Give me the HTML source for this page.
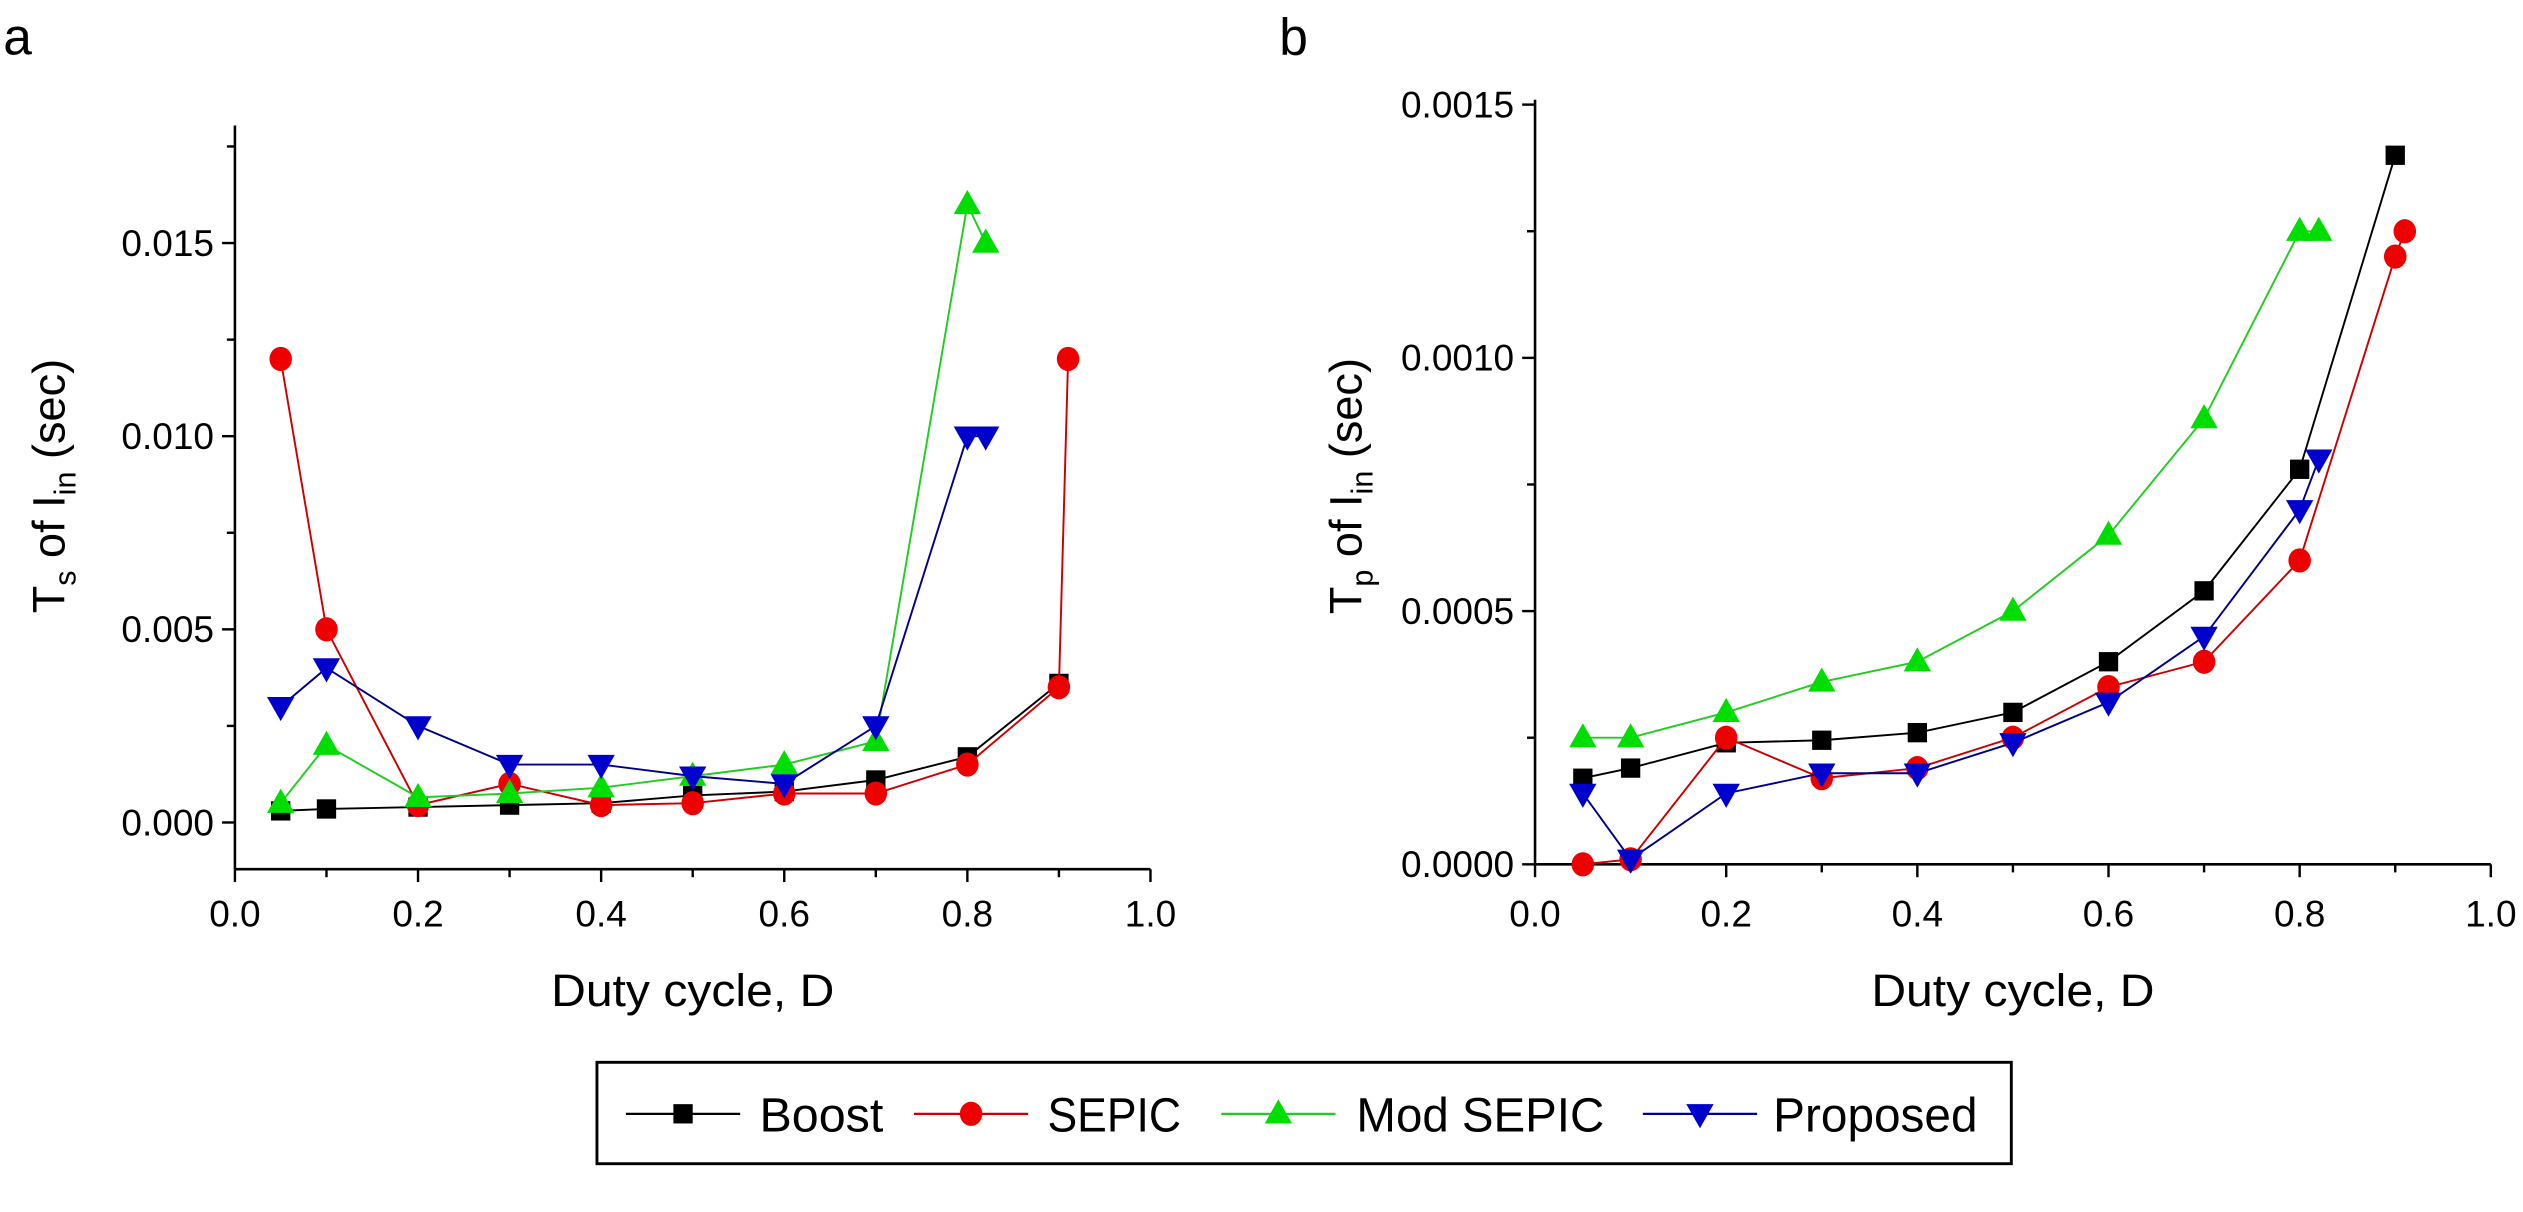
<!DOCTYPE html>
<html><head><meta charset="utf-8"><style>
html,body{margin:0;padding:0;background:#fff;}
svg{display:block;font-family:"Liberation Sans",Arial,sans-serif;}
</style></head><body>
<svg id="chart" width="2523" height="1212" viewBox="0 0 1568 753" preserveAspectRatio="none" xmlns="http://www.w3.org/2000/svg">
<g id="pa"></g>
<g id="pb"></g>
<g id="legend"></g>
</svg>
<script>
const xsA = [0.05,0.1,0.2,0.3,0.4,0.5,0.6,0.7,0.8,0.9];
const boostA = [0.0003,0.00035,0.0004,0.00045,0.0005,0.0007,0.0008,0.0011,0.0017,0.0036];
const sepicXA = [0.05,0.1,0.2,0.3,0.4,0.5,0.6,0.7,0.8,0.9,0.91];
const sepicA = [0.012,0.005,0.00045,0.001,0.00045,0.0005,0.00075,0.00075,0.0015,0.0035,0.012];
const modXA = [0.05,0.1,0.2,0.3,0.4,0.5,0.6,0.7,0.8,0.82];
const modA = [0.0005,0.002,0.00065,0.00075,0.0009,0.0012,0.0015,0.0021,0.016,0.015];
const propXA = [0.05,0.1,0.2,0.3,0.4,0.5,0.6,0.7,0.8,0.82];
const propA = [0.003,0.004,0.0025,0.0015,0.0015,0.0012,0.001,0.0025,0.01,0.01];

const xsB = [0.05,0.1,0.2,0.3,0.4,0.5,0.6,0.7,0.8,0.9];
const boostB = [0.00017,0.00019,0.00024,0.000245,0.00026,0.0003,0.0004,0.00054,0.00078,0.0014];
const sepicXB = [0.05,0.1,0.2,0.3,0.4,0.5,0.6,0.7,0.8,0.9,0.91];
const sepicB = [0,0.00001,0.00025,0.00017,0.00019,0.00025,0.00035,0.0004,0.0006,0.0012,0.00125];
const modXB = [0.05,0.1,0.2,0.3,0.4,0.5,0.6,0.7,0.8,0.82];
const modB = [0.00025,0.00025,0.0003,0.00036,0.0004,0.0005,0.00065,0.00088,0.00125,0.00125];
const propXB = [0.05,0.1,0.2,0.3,0.4,0.5,0.6,0.7,0.8,0.82];
const propB = [0.00014,0.00001,0.00014,0.00018,0.00018,0.00024,0.00032,0.00045,0.0007,0.0008];

const xTickLabels = ["0.0","0.2","0.4","0.6","0.8","1.0"];
const yTickLabelsA = ["0.000","0.005","0.010","0.015"];
const yTickLabelsB = ["0.0000","0.0005","0.0010","0.0015"];

const NS="http://www.w3.org/2000/svg";
function mk(tag, attrs, parent){const e=document.createElementNS(NS,tag);for(const k in attrs)e.setAttribute(k,attrs[k]);parent.appendChild(e);return e;}

const colors={boost:"#000",sepic:"#e00",mod:"#0d0",prop:"#00c"};
const lineColors={boost:"#000",sepic:"#c00",mod:"#2c2",prop:"#008"};

function marker(kind,x,y,g){
  let e;
  if(kind==="boost"){e=mk("rect",{x:x-6,y:y-6,width:12,height:12,fill:colors.boost},g);}
  else if(kind==="sepic"){e=mk("ellipse",{cx:x,cy:y,rx:7,ry:7.5,fill:colors.sepic},g);}
  else if(kind==="mod"){e=mk("polygon",{points:`${x},${y-9} ${x+8.5},${y+6} ${x-8.5},${y+6}`,fill:colors.mod},g);}
  else {e=mk("polygon",{points:`${x},${y+9} ${x+8.5},${y-6} ${x-8.5},${y-6}`,fill:colors.prop},g);}
  
  
}

function panel(g,cfg){
  const X=v=>cfg.x0+v*(cfg.x1-cfg.x0);
  const Y=v=>cfg.y0-(v-cfg.vmin)/(cfg.vmax-cfg.vmin)*(cfg.y0-cfg.ytop);
  let a=mk("line",{x1:cfg.x0,y1:cfg.axTop,x2:cfg.x0,y2:cfg.axBot,stroke:"#000","stroke-width":1.6},g);
  
  a=mk("line",{x1:cfg.x0,y1:cfg.axBot,x2:cfg.x1,y2:cfg.axBot,stroke:"#000","stroke-width":1.6},g);
  
  for(let i=0;i<=10;i++){
    const v=i/10,x=X(v),major=i%2===0;
    mk("line",{x1:x,y1:cfg.axBot,x2:x,y2:cfg.axBot+(major?8:5),stroke:"#000","stroke-width":1.5},g);
    if(major){const t=mk("text",{x:x,y:575.5,"font-size":23,"text-anchor":"middle"},g);t.textContent=xTickLabels[i/2];
      }
  }
  cfg.yLabels.forEach((lab,i)=>{
    const v=i*cfg.step,y=Y(v);
    mk("line",{x1:cfg.x0-8,y1:y,x2:cfg.x0,y2:y,stroke:"#000","stroke-width":1.5},g);
    const t=mk("text",{x:cfg.x0-13,y:y+8,"font-size":23,"text-anchor":"end"},g);t.textContent=lab;
    
    const vm=v+cfg.step/2,ym=Y(vm);
    if(ym>=cfg.axTop) mk("line",{x1:cfg.x0-5,y1:ym,x2:cfg.x0,y2:ym,stroke:"#000","stroke-width":1.5},g);
  });
  cfg.series.forEach(s=>{
    const sg=mk("g",{},g);
    
    const pts=s.xs.map((x,i)=>X(x).toFixed(1)+","+Y(s.ys[i]).toFixed(1)).join(" ");
    mk("polyline",{points:pts,fill:"none",stroke:lineColors[s.kind],"stroke-width":1.2},sg);
    s.xs.forEach((x,i)=>marker(s.kind,X(x),Y(s.ys[i]),sg));
  });
  let t=mk("text",{x:(cfg.x0+cfg.x1)/2,y:625,"font-size":28,"text-anchor":"middle",textLength:176,lengthAdjust:"spacingAndGlyphs"},g);
  t.textContent="Duty cycle, D";
  t=mk("text",{x:0,y:0,"font-size":28,"text-anchor":"middle",transform:`translate(${cfg.ytx},${cfg.yty}) rotate(-90)`},g);
  t.innerHTML=`T<tspan font-size="19" dy="7">${cfg.sub}</tspan><tspan dy="-7"> of I</tspan><tspan font-size="19" dy="7">in</tspan><tspan dy="-7"> (sec)</tspan>`;
  
  t=mk("text",{x:cfg.lx,y:34,"font-size":32},g);t.textContent=cfg.letter;
  
}

panel(document.getElementById("pa"),{x0:146,x1:715,y0:511,ytop:151,vmin:0,vmax:0.015,step:0.005,axTop:78,axBot:540,
  yLabels:yTickLabelsA,sub:"s",ytx:40,yty:302,letter:"a",lx:2,
  series:[{kind:"boost",xs:xsA,ys:boostA},{kind:"sepic",xs:sepicXA,ys:sepicA},{kind:"mod",xs:modXA,ys:modA},{kind:"prop",xs:propXA,ys:propA}]});
panel(document.getElementById("pb"),{x0:954,x1:1548,y0:537,ytop:65,vmin:0,vmax:0.0015,step:0.0005,axTop:62,axBot:537,
  yLabels:yTickLabelsB,sub:"p",ytx:846,yty:302,letter:"b",lx:795,
  series:[{kind:"boost",xs:xsB,ys:boostB},{kind:"sepic",xs:sepicXB,ys:sepicB},{kind:"mod",xs:modXB,ys:modB},{kind:"prop",xs:propXB,ys:propB}]});

const lg=document.getElementById("legend");
const box=mk("rect",{x:371,y:660,width:879,height:63,fill:"none",stroke:"#000","stroke-width":1.8},lg);

const legendNames=["Boost","SEPIC","Mod SEPIC","Proposed"];
const legendKinds=["boost","sepic","mod","prop"];
const legendX=[389,568,759,1021];
const legendTextX=[472,651,843,1102];
const legendTextW=[77,83,154,127];
legendNames.forEach((n,i)=>{
  const eg=mk("g",{},lg);
  
  const x=legendX[i];
  mk("line",{x1:x,y1:692,x2:x+71,y2:692,stroke:lineColors[legendKinds[i]],"stroke-width":1.4},eg);
  marker(legendKinds[i],x+35.5,692,eg);
  const t=mk("text",{x:legendTextX[i],y:703,"font-size":30,textLength:legendTextW[i],lengthAdjust:"spacingAndGlyphs"},eg);t.textContent=n;
});
</script>
</body></html>
